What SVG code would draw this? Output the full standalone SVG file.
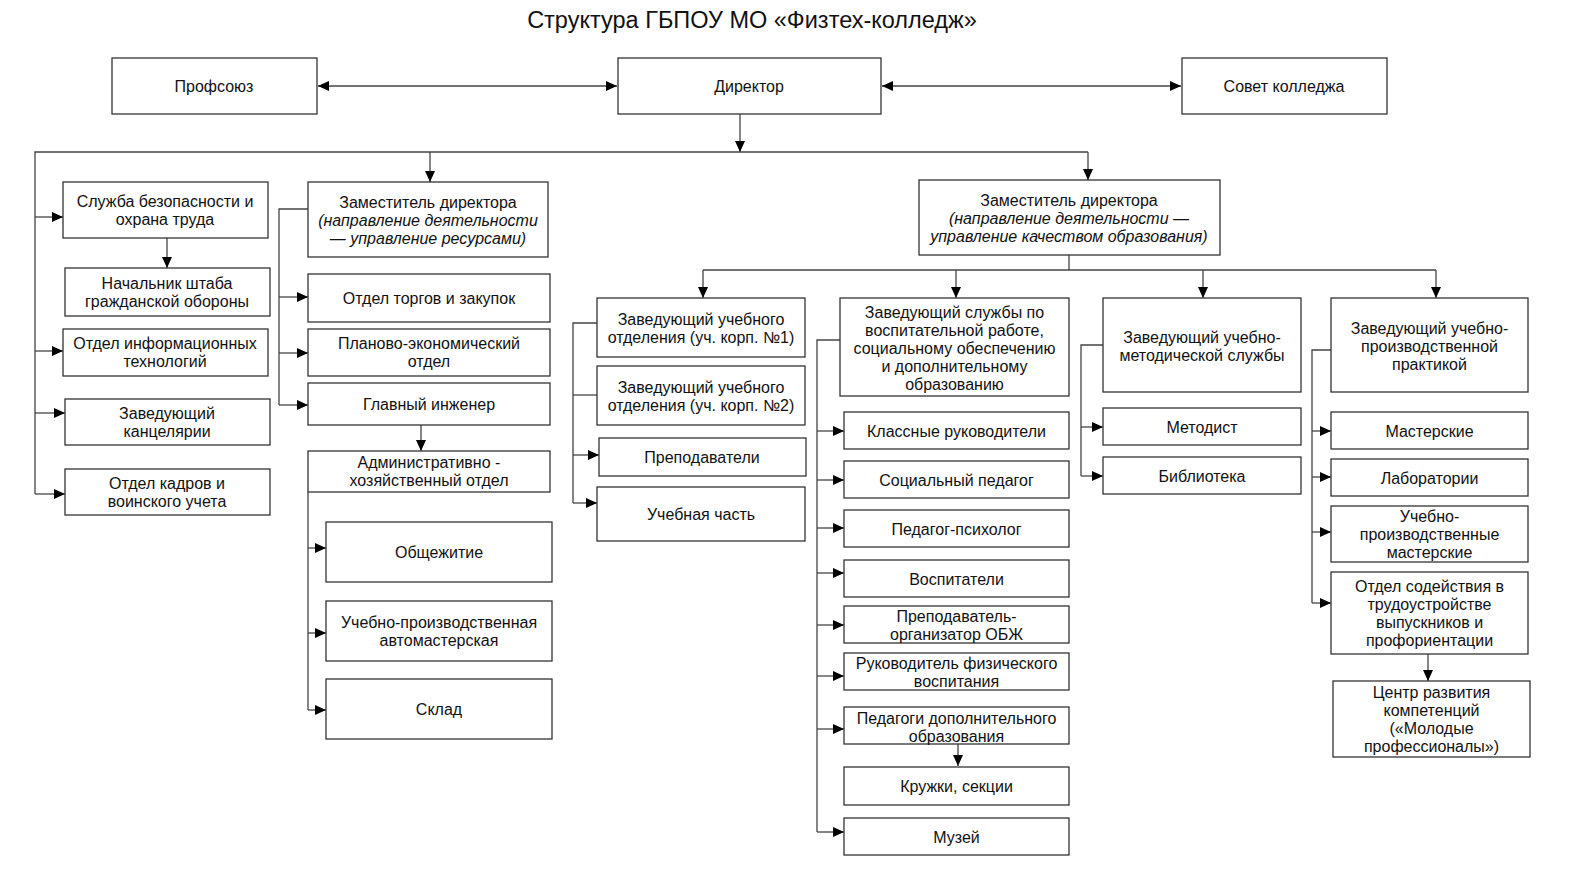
<svg xmlns="http://www.w3.org/2000/svg" width="1575" height="871" viewBox="0 0 1575 871">
<style>
.b{fill:#fff;stroke:#333;stroke-width:1.3}
.t{font-family:"Liberation Sans",Arial,sans-serif;font-size:16px;fill:#111;text-anchor:middle}
.i{font-style:italic}
.c{fill:none;stroke:#444;stroke-width:1.3}
.a{marker-end:url(#ah)}
.d{marker-start:url(#ah);marker-end:url(#ah)}
</style>
<defs>
<marker id="ah" markerUnits="userSpaceOnUse" markerWidth="11" markerHeight="10" refX="11" refY="5" orient="auto-start-reverse"><path d="M0,0 L11,5 L0,10 z" fill="#000"/></marker>
</defs>
<rect width="1575" height="871" fill="#fff"/>
<text x="752" y="28" style="font-family:'Liberation Sans',Arial,sans-serif;font-size:23.5px;fill:#111;text-anchor:middle">Структура ГБПОУ МО «Физтех-колледж»</text>

<g id="connectors">
<line class="c d" x1="318" y1="86" x2="617" y2="86"/>
<line class="c d" x1="882" y1="86" x2="1181" y2="86"/>
<line class="c a" x1="740" y1="114" x2="740" y2="152"/>
<polyline class="c" points="35,494 35,152 1088,152"/>
<line class="c a" x1="430" y1="152" x2="430" y2="182"/>
<line class="c a" x1="1088" y1="152" x2="1088" y2="180"/>
<line class="c a" x1="35" y1="217" x2="63" y2="217"/>
<line class="c a" x1="35" y1="351" x2="63" y2="351"/>
<line class="c a" x1="35" y1="413" x2="65" y2="413"/>
<line class="c a" x1="35" y1="494" x2="65" y2="494"/>
<line class="c a" x1="167" y1="238" x2="167" y2="268"/>
<polyline class="c" points="308,209 279,209 279,405"/>
<line class="c a" x1="279" y1="297" x2="308" y2="297"/>
<line class="c a" x1="279" y1="353" x2="308" y2="353"/>
<line class="c a" x1="279" y1="405" x2="308" y2="405"/>
<line class="c a" x1="421" y1="425" x2="421" y2="451"/>
<line class="c" x1="308" y1="492" x2="308" y2="710"/>
<line class="c a" x1="308" y1="548" x2="326" y2="548"/>
<line class="c a" x1="308" y1="633" x2="326" y2="633"/>
<line class="c a" x1="308" y1="710" x2="326" y2="710"/>
<polyline class="c" points="1069,255 1069,270"/>
<line class="c" x1="703" y1="270" x2="1436" y2="270"/>
<line class="c a" x1="703" y1="270" x2="703" y2="298"/>
<line class="c a" x1="956" y1="270" x2="956" y2="298"/>
<line class="c a" x1="1203" y1="270" x2="1203" y2="298"/>
<line class="c a" x1="1436" y1="270" x2="1436" y2="298"/>
<polyline class="c" points="597,323 573,323 573,503"/>
<line class="c" x1="573" y1="395" x2="597" y2="395"/>
<line class="c a" x1="573" y1="455" x2="599" y2="455"/>
<line class="c a" x1="573" y1="503" x2="597" y2="503"/>
<polyline class="c" points="840,340 817,340 817,832"/>
<line class="c a" x1="817" y1="431" x2="844" y2="431"/>
<line class="c a" x1="817" y1="480" x2="844" y2="480"/>
<line class="c a" x1="817" y1="528" x2="844" y2="528"/>
<line class="c a" x1="817" y1="573" x2="844" y2="573"/>
<line class="c a" x1="817" y1="625" x2="844" y2="625"/>
<line class="c a" x1="817" y1="676" x2="844" y2="676"/>
<line class="c a" x1="817" y1="729" x2="844" y2="729"/>
<line class="c a" x1="817" y1="832" x2="844" y2="832"/>
<line class="c a" x1="958" y1="744" x2="958" y2="766"/>
<polyline class="c" points="1103,345 1081,345 1081,476"/>
<line class="c a" x1="1081" y1="427" x2="1103" y2="427"/>
<line class="c a" x1="1081" y1="476" x2="1103" y2="476"/>
<polyline class="c" points="1331,350 1312,350 1312,603"/>
<line class="c a" x1="1312" y1="431" x2="1331" y2="431"/>
<line class="c a" x1="1312" y1="477" x2="1331" y2="477"/>
<line class="c a" x1="1312" y1="532" x2="1331" y2="532"/>
<line class="c a" x1="1312" y1="603" x2="1331" y2="603"/>
<line class="c a" x1="1428" y1="654" x2="1428" y2="681"/>
</g>

<g id="n-profsoyuz"><rect class="b" x="112" y="58" width="205" height="56"/><text class="t" x="214" y="91.5">Профсоюз</text></g>
<g id="n-director"><rect class="b" x="618" y="58" width="263" height="56"/><text class="t" x="749" y="91.5">Директор</text></g>
<g id="n-sovet"><rect class="b" x="1182" y="58" width="205" height="56"/><text class="t" x="1284" y="91.5">Совет колледжа</text></g>

<g id="n-sluzhba"><rect class="b" x="63" y="182" width="205" height="56"/><text class="t" x="165" y="206.5">Служба безопасности и</text><text class="t" x="165" y="224.5">охрана труда</text></g>
<g id="n-go"><rect class="b" x="65" y="268" width="205" height="48"/><text class="t" x="167" y="288.5">Начальник штаба</text><text class="t" x="167" y="306.5">гражданской обороны</text></g>
<g id="n-it"><rect class="b" x="63" y="329" width="205" height="47"/><text class="t" x="165" y="349">Отдел информационных</text><text class="t" x="165" y="367">технологий</text></g>
<g id="n-kanc"><rect class="b" x="65" y="399" width="205" height="46"/><text class="t" x="167" y="418.5">Заведующий</text><text class="t" x="167" y="436.5">канцелярии</text></g>
<g id="n-kadry"><rect class="b" x="65" y="469" width="205" height="46"/><text class="t" x="167" y="488.5">Отдел кадров и</text><text class="t" x="167" y="506.5">воинского учета</text></g>

<g id="n-zam1"><rect class="b" x="308" y="182" width="240" height="75"/><text class="t" x="428" y="207.5">Заместитель директора</text><text class="t i" x="428" y="225.5">(направление деятельности</text><text class="t i" x="428" y="243.5">— управление ресурсами)</text></g>
<g id="n-torgi"><rect class="b" x="308" y="274" width="242" height="48"/><text class="t" x="429" y="303.5">Отдел торгов и закупок</text></g>
<g id="n-plan"><rect class="b" x="308" y="329" width="242" height="47"/><text class="t" x="429" y="349">Планово-экономический</text><text class="t" x="429" y="367">отдел</text></g>
<g id="n-ingener"><rect class="b" x="308" y="383" width="242" height="42"/><text class="t" x="429" y="410">Главный инженер</text></g>
<g id="n-aho"><rect class="b" x="308" y="451" width="242" height="41"/><text class="t" x="429" y="468">Административно -</text><text class="t" x="429" y="486">хозяйственный отдел</text></g>
<g id="n-obsh"><rect class="b" x="326" y="522" width="226" height="60"/><text class="t" x="439" y="557.5">Общежитие</text></g>
<g id="n-avto"><rect class="b" x="326" y="601" width="226" height="60"/><text class="t" x="439" y="627.5">Учебно-производственная</text><text class="t" x="439" y="645.5">автомастерская</text></g>
<g id="n-sklad"><rect class="b" x="326" y="679" width="226" height="60"/><text class="t" x="439" y="714.5">Склад</text></g>

<g id="n-zam2"><rect class="b" x="919" y="180" width="301" height="75"/><text class="t" x="1069" y="205.5">Заместитель директора</text><text class="t i" x="1069" y="223.5">(направление деятельности —</text><text class="t i" x="1069" y="241.5">управление качеством образования)</text></g>

<g id="n-otd1"><rect class="b" x="597" y="298" width="208" height="59"/><text class="t" x="701" y="325">Заведующий учебного</text><text class="t" x="701" y="343">отделения (уч. корп. №1)</text></g>
<g id="n-otd2"><rect class="b" x="597" y="366" width="208" height="59"/><text class="t" x="701" y="393">Заведующий учебного</text><text class="t" x="701" y="411">отделения (уч. корп. №2)</text></g>
<g id="n-prepod"><rect class="b" x="599" y="438" width="207" height="38"/><text class="t" x="702" y="462.5">Преподаватели</text></g>
<g id="n-uchchast"><rect class="b" x="597" y="487" width="208" height="54"/><text class="t" x="701" y="519.5">Учебная часть</text></g>

<g id="n-vosp"><rect class="b" x="840" y="298" width="229" height="98"/><text class="t" x="954.5" y="317.5">Заведующий службы по</text><text class="t" x="954.5" y="335.5">воспитательной работе,</text><text class="t" x="954.5" y="353.5">социальному обеспечению</text><text class="t" x="954.5" y="371.5">и дополнительному</text><text class="t" x="954.5" y="389.5">образованию</text></g>
<g id="n-klass"><rect class="b" x="844" y="412" width="225" height="37"/><text class="t" x="956.5" y="436.5">Классные руководители</text></g>
<g id="n-socped"><rect class="b" x="844" y="461" width="225" height="37"/><text class="t" x="956.5" y="485.5">Социальный педагог</text></g>
<g id="n-psih"><rect class="b" x="844" y="510" width="225" height="37"/><text class="t" x="956.5" y="534.5">Педагог-психолог</text></g>
<g id="n-vospit"><rect class="b" x="844" y="560" width="225" height="37"/><text class="t" x="956.5" y="584.5">Воспитатели</text></g>
<g id="n-obzh"><rect class="b" x="844" y="606" width="225" height="37"/><text class="t" x="956.5" y="621.5">Преподаватель-</text><text class="t" x="956.5" y="639.5">организатор ОБЖ</text></g>
<g id="n-fiz"><rect class="b" x="844" y="653" width="225" height="37"/><text class="t" x="956.5" y="668.5">Руководитель физического</text><text class="t" x="956.5" y="686.5">воспитания</text></g>
<g id="n-dop"><rect class="b" x="844" y="707" width="225" height="37"/><text class="t" x="956.5" y="723.5">Педагоги дополнительного</text><text class="t" x="956.5" y="741.5">образования</text></g>
<g id="n-kruzhki"><rect class="b" x="844" y="767" width="225" height="38"/><text class="t" x="956.5" y="791.5">Кружки, секции</text></g>
<g id="n-muzey"><rect class="b" x="844" y="818" width="225" height="37"/><text class="t" x="956.5" y="842.5">Музей</text></g>

<g id="n-metod-sl"><rect class="b" x="1103" y="298" width="198" height="94"/><text class="t" x="1202" y="342.5">Заведующий учебно-</text><text class="t" x="1202" y="360.5">методической службы</text></g>
<g id="n-metodist"><rect class="b" x="1103" y="408" width="198" height="37"/><text class="t" x="1202" y="432.5">Методист</text></g>
<g id="n-bibl"><rect class="b" x="1103" y="457" width="198" height="37"/><text class="t" x="1202" y="481.5">Библиотека</text></g>

<g id="n-praktika"><rect class="b" x="1331" y="298" width="197" height="94"/><text class="t" x="1429.5" y="333.5">Заведующий учебно-</text><text class="t" x="1429.5" y="351.5">производственной</text><text class="t" x="1429.5" y="369.5">практикой</text></g>
<g id="n-master"><rect class="b" x="1331" y="412" width="197" height="37"/><text class="t" x="1429.5" y="436.5">Мастерские</text></g>
<g id="n-lab"><rect class="b" x="1331" y="459" width="197" height="37"/><text class="t" x="1429.5" y="483.5">Лаборатории</text></g>
<g id="n-upm"><rect class="b" x="1331" y="506" width="197" height="56"/><text class="t" x="1429.5" y="521.5">Учебно-</text><text class="t" x="1429.5" y="539.5">производственные</text><text class="t" x="1429.5" y="557.5">мастерские</text></g>
<g id="n-trud"><rect class="b" x="1331" y="572" width="197" height="82"/><text class="t" x="1429.5" y="591.5">Отдел содействия в</text><text class="t" x="1429.5" y="609.5">трудоустройстве</text><text class="t" x="1429.5" y="627.5">выпускников и</text><text class="t" x="1429.5" y="645.5">профориентации</text></g>
<g id="n-centr"><rect class="b" x="1333" y="681" width="197" height="76"/><text class="t" x="1431.5" y="697.5">Центр развития</text><text class="t" x="1431.5" y="715.5">компетенций</text><text class="t" x="1431.5" y="733.5">(«Молодые</text><text class="t" x="1431.5" y="751.5">профессионалы»)</text></g>
</svg>
